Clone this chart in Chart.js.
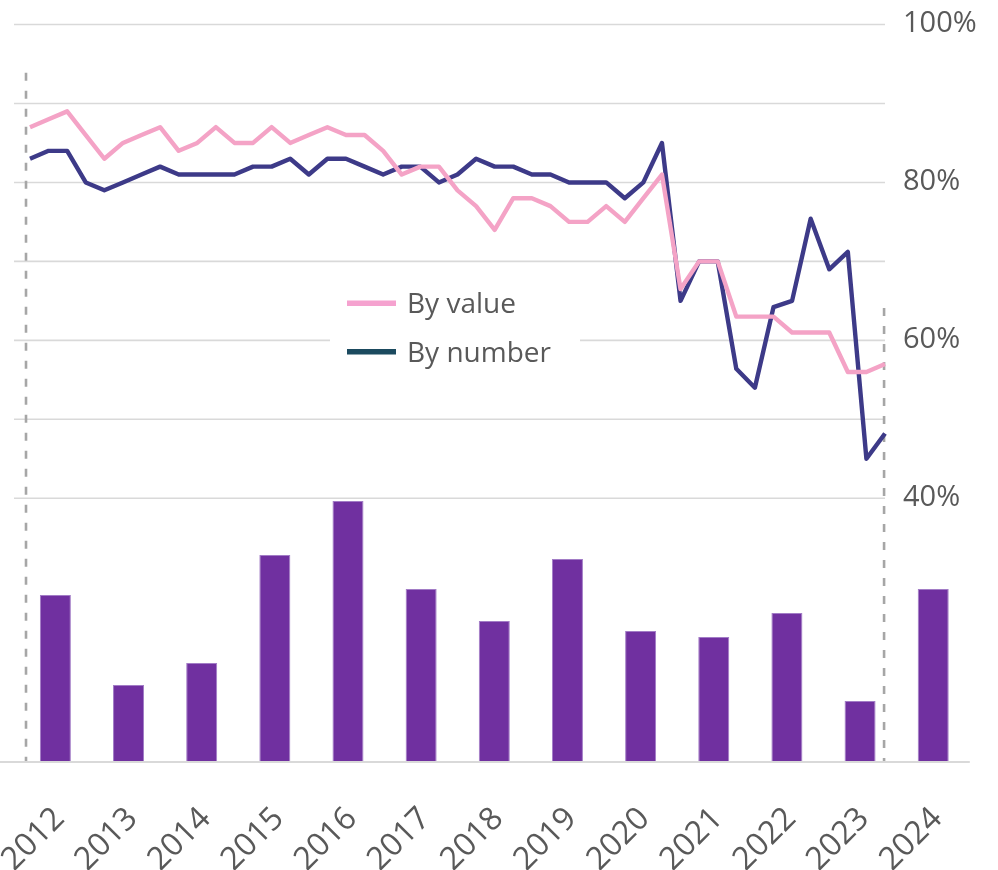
<!DOCTYPE html>
<html>
<head>
<meta charset="utf-8">
<script src="https://cdn.jsdelivr.net/npm/chart.js@4/dist/chart.umd.min.js"></script>
<style>
  html, body { margin: 0; padding: 0; background: #ffffff; }
  #wrap { position: relative; width: 998px; height: 870px; }
</style>
</head>
<body>
<div id="wrap"><canvas id="c"></canvas></div>
<script>
// ---------- data ----------
const years = ['2012','2013','2014','2015','2016','2017','2018','2019','2020','2021','2022','2023','2024'];
const barValues = [83, 38, 49, 103, 130, 86, 70, 101, 65, 62, 74, 30, 86];

const quarterLabels = [
  '2012 Q1','2012 Q2','2012 Q3','2012 Q4','2013 Q1','2013 Q2','2013 Q3','2013 Q4',
  '2014 Q1','2014 Q2','2014 Q3','2014 Q4','2015 Q1','2015 Q2','2015 Q3','2015 Q4',
  '2016 Q1','2016 Q2','2016 Q3','2016 Q4','2017 Q1','2017 Q2','2017 Q3','2017 Q4',
  '2018 Q1','2018 Q2','2018 Q3','2018 Q4','2019 Q1','2019 Q2','2019 Q3','2019 Q4',
  '2020 Q1','2020 Q2','2020 Q3','2020 Q4','2021 Q1','2021 Q2','2021 Q3','2021 Q4',
  '2022 Q1','2022 Q2','2022 Q3','2022 Q4','2023 Q1','2023 Q2','2023 Q3'
];
const byValue = [
  87, 88, 89, 86, 83, 85, 86, 87, 84, 85,
  87, 85, 85, 87, 85, 86, 87, 86, 86, 84,
  81, 82, 82, 79, 77, 74, 78, 78, 77, 75,
  75, 77, 75, 78, 81, 66.5, 70, 70, 63, 63,
  63, 61, 61, 61, 56, 56, 57
];
const byNumber = [
  83, 84, 84, 80, 79, 80, 81, 82, 81, 81,
  81, 81, 82, 82, 83, 81, 83, 83, 82, 81,
  82, 82, 80, 81, 83, 82, 82, 81, 81, 80,
  80, 80, 78, 80, 85, 65, 70, 70, 56.4, 54,
  64.2, 65, 75.4, 69, 71.2, 45, 48.2
];
const seriesNames = ['By value', 'By number'];
const percentTicks = [40, 50, 60, 70, 80, 90, 100];
const percentLabelTicks = [40, 60, 80, 100];
// dashed guide lines (x in quarter index units, top in %)
const guideX = [-0.215, 45.95];
const guideTop = [93.9, 64.1];

// ---------- layout / style constants ----------
const Y2_MIN = 6.73, Y2_MAX = 100;
const X2_MIN = -0.6026, X2_MAX = 50.562;
const GRID_FROM = -0.86, GRID_TO = 46;
const TEXT = '#595959';
const FONT = '"Open Sans", "Noto Sans", sans-serif';

const toXY = arr => arr.map((v, i) => ({ x: i, y: v }));

const overlay = {
  id: 'overlay',
  beforeDatasetsDraw(chart) {
    const { ctx, chartArea } = chart;
    const x2 = chart.scales.x2, y2 = chart.scales.y2;
    ctx.save();
    ctx.strokeStyle = '#d9d9d9';
    ctx.lineWidth = 1.6;
    const xs = x2.getPixelForValue(GRID_FROM), xe = x2.getPixelForValue(GRID_TO);
    percentTicks.forEach(v => {
      const y = y2.getPixelForValue(v);
      ctx.beginPath(); ctx.moveTo(xs, y); ctx.lineTo(xe, y); ctx.stroke();
    });
    ctx.lineWidth = 2;
    ctx.beginPath();
    ctx.moveTo(0, chartArea.bottom + 1);
    ctx.lineTo(chartArea.right, chartArea.bottom + 1);
    ctx.stroke();
    ctx.restore();
  },
  afterDatasetsDraw(chart) {
    const { ctx } = chart;
    const y2 = chart.scales.y2;
    ctx.save();
    // legend box
    ctx.fillStyle = '#ffffff';
    ctx.fillRect(330, 280, 250, 95);
    const items = chart.data.datasets.filter(d => d.legendColor);
    const rowY = [303.3, 351.7];
    items.forEach((d, i) => {
      const y = rowY[i];
      ctx.strokeStyle = d.legendColor;
      ctx.lineWidth = 5.5;
      ctx.lineCap = 'butt';
      ctx.beginPath(); ctx.moveTo(347, y); ctx.lineTo(396, y); ctx.stroke();
      ctx.fillStyle = TEXT;
      ctx.font = '28px ' + FONT;
      ctx.textAlign = 'left';
      ctx.textBaseline = 'alphabetic';
      ctx.fillText(d.label, 407, y + 10);
    });
    // right percent labels
    ctx.font = '29px ' + FONT;
    ctx.fillStyle = TEXT;
    ctx.textAlign = 'left';
    ctx.textBaseline = 'alphabetic';
    percentLabelTicks.forEach(v => {
      const y = y2.getPixelForValue(v);
      ctx.fillText(v + '%', 903, y + 7.8);
    });
    ctx.restore();
  }
};

new Chart(document.getElementById('c'), {
  type: 'bar',
  data: {
    labels: years,
    datasets: [
      {
        type: 'line', label: seriesNames[0], data: toXY(byValue),
        xAxisID: 'x2', yAxisID: 'y2',
        borderColor: '#f4a3c6', legendColor: '#f5a2cf', borderWidth: 4.4,
        pointRadius: 0, tension: 0, borderJoinStyle: 'round', order: 0
      },
      {
        type: 'line', label: seriesNames[1], data: toXY(byNumber),
        xAxisID: 'x2', yAxisID: 'y2',
        borderColor: '#3d3a88', legendColor: '#1b4a5f', borderWidth: 4.4,
        pointRadius: 0, tension: 0, borderJoinStyle: 'round', order: 1
      },
      {
        type: 'line', label: 'guide start',
        data: [{ x: guideX[0], y: guideTop[0] }, { x: guideX[0], y: Y2_MIN }],
        xAxisID: 'x2', yAxisID: 'y2',
        borderColor: '#a6a6a6', borderWidth: 2.6, borderDash: [8, 10],
        pointRadius: 0, order: 2
      },
      {
        type: 'line', label: 'guide end',
        data: [{ x: guideX[1], y: guideTop[1] }, { x: guideX[1], y: Y2_MIN }],
        xAxisID: 'x2', yAxisID: 'y2',
        borderColor: '#a6a6a6', borderWidth: 2.6, borderDash: [8, 10],
        pointRadius: 0, order: 2
      },
      {
        type: 'bar', label: 'Annual', data: barValues,
        xAxisID: 'x', yAxisID: 'y',
        backgroundColor: '#7030a0', borderColor: '#a27cc6', borderWidth: 1,
        grouped: false, barPercentage: 0.424, categoryPercentage: 1, order: 3
      }
    ]
  },
  options: {
    responsive: true,
    maintainAspectRatio: false,
    animation: false,
    layout: { padding: { left: 18.8, right: 28.2, top: 24.5, bottom: 0 } },
    plugins: { legend: { display: false }, tooltip: { enabled: false } },
    scales: {
      x: {
        type: 'category', position: 'bottom', offset: true,
        grid: { display: false }, border: { display: false },
        ticks: {
          color: TEXT, font: { family: FONT, size: 32 },
          minRotation: 45, maxRotation: 45, autoSkip: false, padding: 31, labelOffset: 4
        },
        afterFit(s) { s.height = 109; s.paddingLeft = 0; s.paddingRight = 0; }
      },
      x2: {
        type: 'linear', display: false, offset: false, grid: { offset: false },
        min: X2_MIN, max: X2_MAX,
        ticks: { callback: v => quarterLabels[v] || '' }
      },
      y: { type: 'linear', display: false, min: 0, max: 368.25 },
      y2: { type: 'linear', display: false, min: Y2_MIN, max: Y2_MAX }
    }
  },
  plugins: [overlay]
});
</script>
</body>
</html>
